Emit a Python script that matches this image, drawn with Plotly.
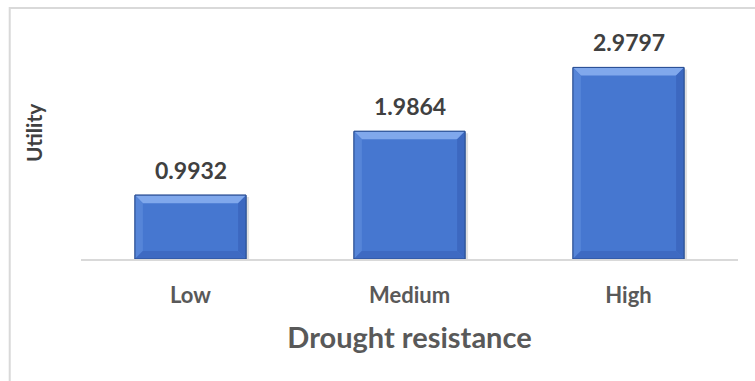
import plotly.graph_objects as go

categories = ["Low", "Medium", "High"]
utility = [0.9932, 1.9864, 2.9797]
value_labels = ["0.9932", "1.9864", "2.9797"]

FONT = "Lato"
BAR_W = 0.507
bar_fill = "#4677D0"
bar_edge = "#2A4F94"

fig = go.Figure()
fig.add_trace(go.Bar(
    x=categories,
    y=utility,
    width=BAR_W,
    marker=dict(color=bar_fill, line=dict(color=bar_edge, width=1)),
    hoverinfo="skip",
))

# bevel facets and a soft shadow for each bar, positioned in axis units
dx, dy = 0.036, 0.125
for i, v in enumerate(utility):
    x0, x1 = i - BAR_W / 2, i + BAR_W / 2
    # shadow
    fig.add_shape(type="rect", xref="x", yref="y", layer="below",
                  x0=x0 + 0.012, x1=x1 + 0.014, y0=-0.04, y1=v - 0.03,
                  fillcolor="rgba(0,0,0,0.12)", line_width=0)
    # top facet
    fig.add_shape(type="path", xref="x", yref="y", layer="above",
                  path=f"M {x0},{v} L {x1},{v} L {x1-dx},{v-dy} L {x0+dx},{v-dy} Z",
                  fillcolor="#80A8EC", line_width=0)
    # left facet
    fig.add_shape(type="path", xref="x", yref="y", layer="above",
                  path=f"M {x0},{v} L {x0+dx},{v-dy} L {x0+dx},{dy} L {x0},0 Z",
                  fillcolor="#5685D8", line_width=0)
    # right facet
    fig.add_shape(type="path", xref="x", yref="y", layer="above",
                  path=f"M {x1},{v} L {x1-dx},{v-dy} L {x1-dx},{dy} L {x1},0 Z",
                  fillcolor="#3C68C0", line_width=0)
    # bottom facet
    fig.add_shape(type="path", xref="x", yref="y", layer="above",
                  path=f"M {x0},0 L {x1},0 L {x1-dx},{dy} L {x0+dx},{dy} Z",
                  fillcolor="#3E6AC2", line_width=0)
    # outline on top of facets
    fig.add_shape(type="rect", xref="x", yref="y", layer="above",
                  x0=x0, x1=x1, y0=0, y1=v,
                  line=dict(color=bar_edge, width=1), fillcolor="rgba(0,0,0,0)")

for cat, val, lab in zip(categories, utility, value_labels):
    fig.add_annotation(
        x=cat, y=val, text=f"<b>{lab}</b>", showarrow=False,
        yanchor="bottom", yshift=9,
        font=dict(family=FONT, size=23, color="#404040"),
    )

# y-axis title placed as rotated text
fig.add_annotation(
    xref="paper", yref="paper", x=-0.073, y=0.56, text="<b>Utility</b>",
    textangle=-90, showarrow=False, xanchor="center", yanchor="middle",
    font=dict(family=FONT, size=21, color="#404040"),
)

# light outer frame (right and bottom edges run off the page)
fig.add_shape(type="rect", xref="paper", yref="paper",
              x0=-0.1085, x1=1.2, y0=-1.0, y1=1.116,
              line=dict(color="#D9D9D9", width=2), layer="below")

fig.update_layout(
    width=755, height=381,
    margin=dict(l=81, r=17, t=34, b=122),
    paper_bgcolor="white", plot_bgcolor="white",
    showlegend=False,
    bargap=1 - BAR_W,
    xaxis=dict(
        showline=True, linecolor="#D9D9D9", linewidth=2,
        ticks="", showgrid=False, ticklabelstandoff=16,
        tickfont=dict(family=FONT, size=22, color="#595959"),
        title=dict(text="<b>Drought resistance</b>",
                   font=dict(family=FONT, size=29, color="#595959"),
                   standoff=20),
    ),
    yaxis=dict(range=[0, 3.5], showticklabels=False, showgrid=False,
               zeroline=False, showline=False, ticks=""),
)
fig.update_xaxes(tickprefix="<b>", ticksuffix="</b>")

fig.write_html("out.html")
